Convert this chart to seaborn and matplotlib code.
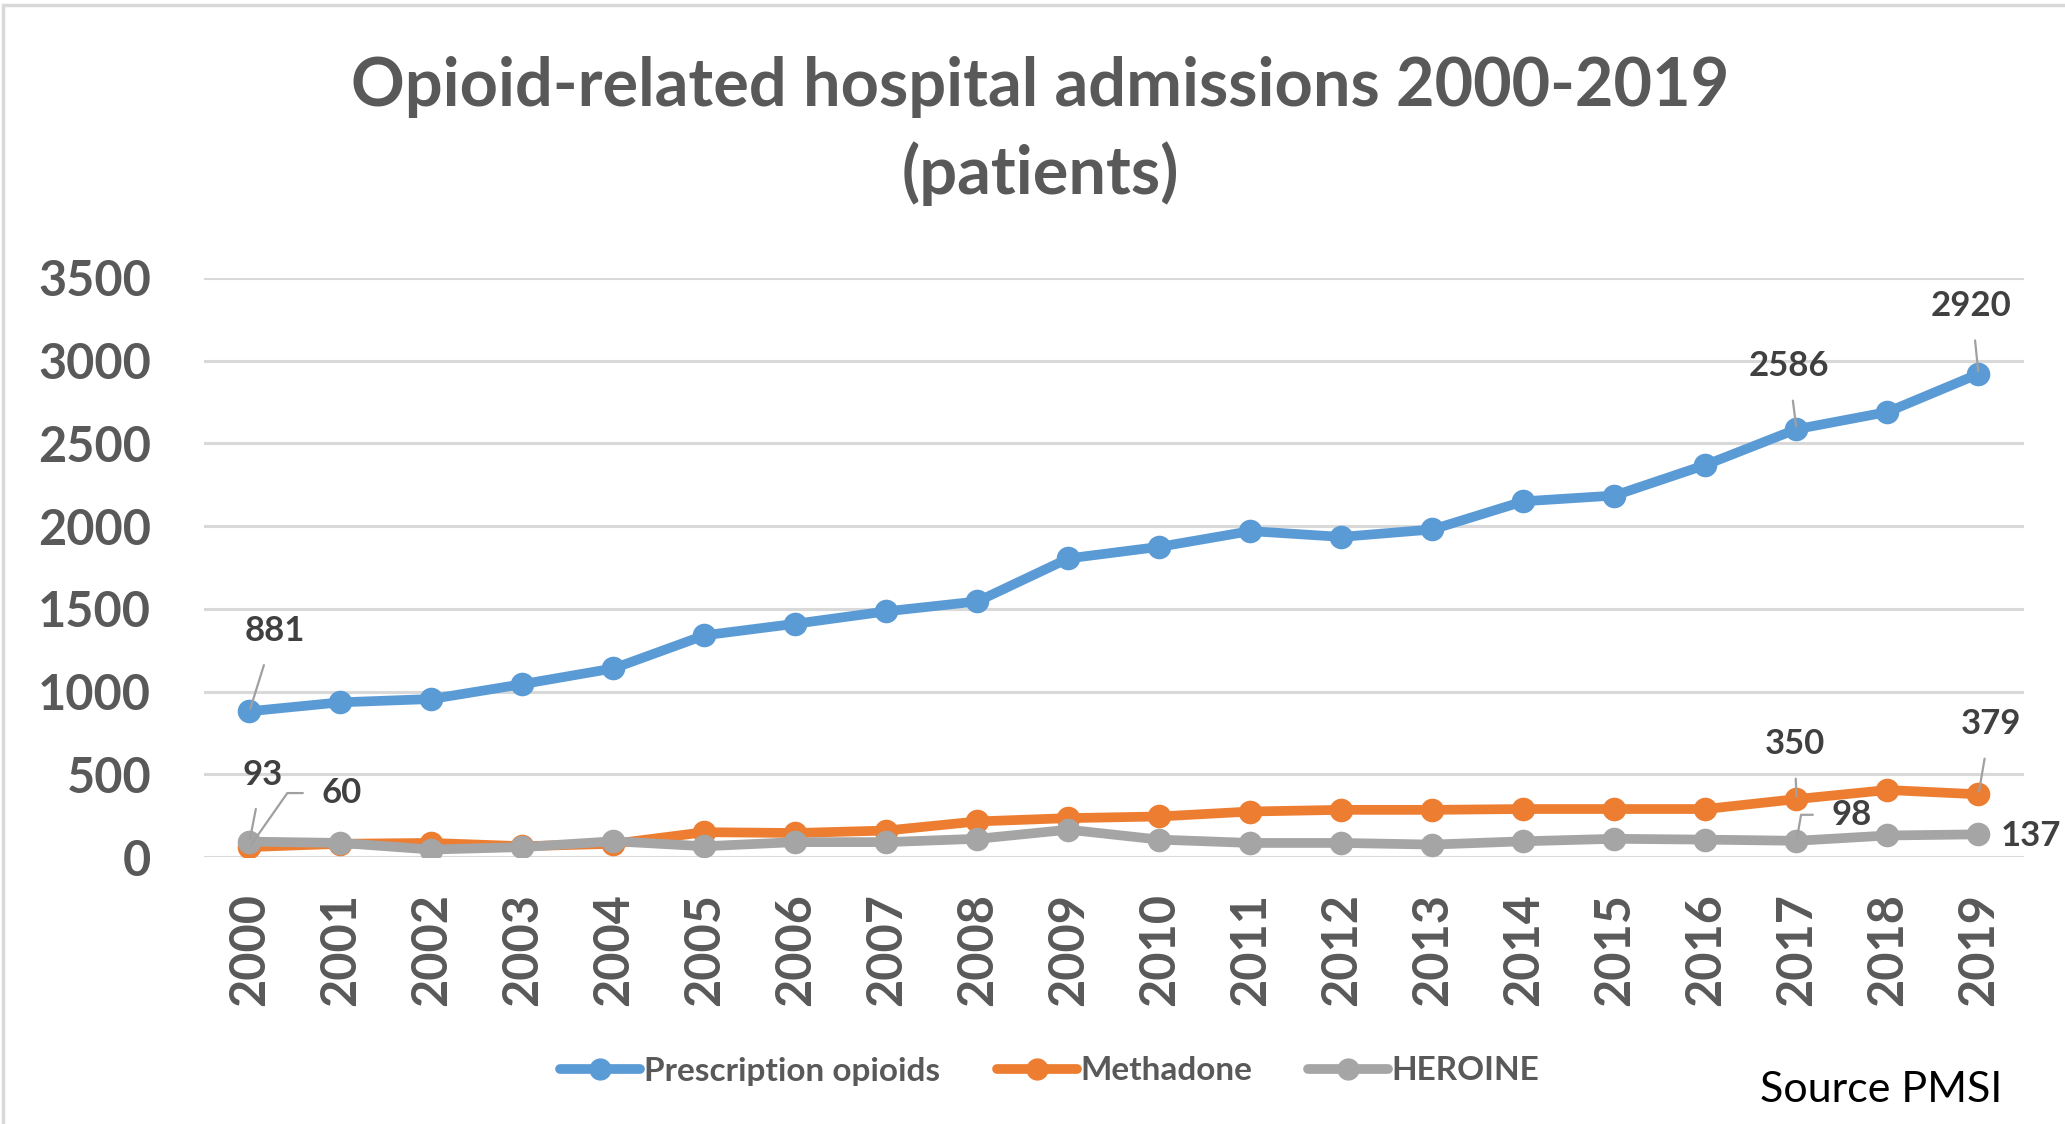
import matplotlib
matplotlib.use("Agg")
import matplotlib.pyplot as plt
import seaborn as sns
import pandas as pd
from matplotlib.patches import Rectangle
from matplotlib.lines import Line2D

years = list(range(2000, 2020))
prescription = [881, 935, 955, 1045, 1140, 1340, 1410, 1485, 1545, 1805,
                1875, 1970, 1935, 1980, 2150, 2185, 2370, 2586, 2690, 2920]
methadone = [60, 80, 85, 65, 80, 150, 145, 160, 215, 235,
             245, 275, 285, 285, 290, 290, 290, 350, 405, 379]
heroine = [93, 85, 45, 60, 95, 65, 90, 90, 110, 165,
           105, 85, 85, 75, 95, 110, 105, 98, 130, 137]
series_names = ["Prescription opioids", "Methadone", "HEROINE"]
colors = ["#5B9BD5", "#ED7D31", "#A5A5A5"]
yticks = [0, 500, 1000, 1500, 2000, 2500, 3000, 3500]
title = "Opioid-related hospital admissions 2000-2019\n(patients)"
source = "Source PMSI"

df = pd.concat([
    pd.DataFrame({"year": years, "value": prescription, "series": series_names[0]}),
    pd.DataFrame({"year": years, "value": methadone, "series": series_names[1]}),
    pd.DataFrame({"year": years, "value": heroine, "series": series_names[2]}),
])

sns.set_style("white")
plt.rcParams["font.family"] = ["Lato", "DejaVu Sans"]

W, H = 2065, 1124
fig = plt.figure(figsize=(W / 100, H / 100), dpi=100)
ax = fig.add_axes([204 / W, 1 - 857 / H, 1820 / W, (857 - 278) / H])

# outer chart frame (top & left visible)
fig.patches.append(Rectangle((3 / W, -0.1), 1.2, 1 - 5 / H + 0.1, transform=fig.transFigure,
                             fill=False, edgecolor="#D9D9D9", linewidth=2.5, zorder=0))

for y in yticks:
    ax.axhline(y, color="#D9D9D9", linewidth=2.2, zorder=0)

sns.lineplot(data=df, x="year", y="value", hue="series", hue_order=series_names,
             palette=colors, marker="o", markersize=17, markeredgewidth=0,
             linewidth=7, ax=ax, legend=False, zorder=3)

ax.set_xlim(1999.5, 2019.5)
ax.set_ylim(0, 3500)
ax.set_xticks(years)
ax.set_xticklabels([str(y) for y in years], rotation=90, fontsize=35,
                   fontweight="bold", color="#595959")
ax.set_yticks(yticks)
ax.set_yticklabels([str(v) for v in yticks], fontsize=35, fontweight="bold", color="#595959")
ax.tick_params(axis="y", length=0, pad=38)
ax.tick_params(axis="x", length=0, pad=26)
ax.set_xlabel("")
ax.set_ylabel("")
for s in ax.spines.values():
    s.set_visible(False)

# data labels
lab_kw = dict(textcoords="offset pixels", fontsize=25, fontweight="bold", color="#404040",
              ha="center", va="center", annotation_clip=False)
line_kw = dict(arrowstyle="-", color="#A0A0A0", lw=1.6, shrinkA=11, shrinkB=2)
i0, i17, i19 = 0, 17, 19
ax.annotate(str(prescription[i0]), (years[i0], prescription[i0]), xytext=(25, 80), arrowprops=line_kw, **lab_kw)
ax.annotate(str(heroine[i0]), (years[i0], heroine[i0]), xytext=(13, 67), arrowprops=line_kw, **lab_kw)
ax.annotate(str(methadone[i0]), (years[i0], methadone[i0]), xytext=(92, 54),
            arrowprops=dict(line_kw, connectionstyle="angle,angleA=0,angleB=55,rad=0"), **lab_kw)
ax.annotate(str(prescription[i17]), (years[i17], prescription[i17]), xytext=(-8, 63), arrowprops=line_kw, **lab_kw)
ax.annotate(str(prescription[i19]), (years[i19], prescription[i19]), xytext=(-7, 68), arrowprops=line_kw, **lab_kw)
ax.annotate(str(methadone[i17]), (years[i17], methadone[i17]), xytext=(-2, 55), arrowprops=line_kw, **lab_kw)
ax.annotate(str(heroine[i17]), (years[i17], heroine[i17]), xytext=(55, 26),
            arrowprops=dict(line_kw, connectionstyle="angle,angleA=0,angleB=80,rad=0"), **lab_kw)
ax.annotate(str(methadone[i19]), (years[i19], methadone[i19]), xytext=(12, 70), arrowprops=line_kw, **lab_kw)
ax.annotate(str(heroine[i19]), (years[i19], heroine[i19]), xytext=(52, -2), **lab_kw)

# legend
handles = [Line2D([0], [0], color=c, lw=7, marker="o", markersize=15) for c in colors]
leg = fig.legend(handles, series_names, loc="center", bbox_to_anchor=(1050 / W, 1 - 1071 / H),
                 ncol=3, frameon=False, handlelength=2.4, handletextpad=0.1, columnspacing=1.7,
                 prop=dict(family=["Lato", "DejaVu Sans"], size=24, weight="bold"))
for t in leg.get_texts():
    t.set_color("#595959")

fig.text(1040 / W, 1 - 131 / H, title, ha="center", va="center", fontsize=48,
         fontweight="bold", color="#595959", linespacing=1.43)
fig.text(2002 / W, 1 - 1090 / H, source, ha="right", va="center", fontsize=31, color="black")

fig.savefig("out.png", dpi=100, facecolor="white")
